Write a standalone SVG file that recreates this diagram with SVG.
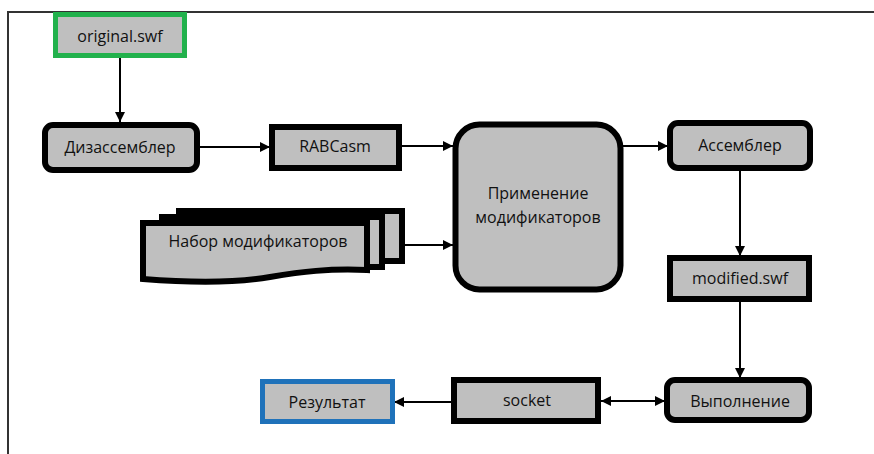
<svg xmlns="http://www.w3.org/2000/svg" width="874" height="454" viewBox="0 0 874 454">
<defs>
<marker id="ah" viewBox="0 0 10 10" refX="10" refY="5" markerWidth="10" markerHeight="10" markerUnits="userSpaceOnUse" orient="auto-start-reverse">
<path d="M0,0 L10,5 L0,10 z" fill="#000"/>
</marker>
<style>
.n{fill:#bfbfbf;stroke:#000;stroke-width:6}
.t{font-family:"Open Sans","Noto Sans",sans-serif;font-size:16px;fill:#111;text-anchor:middle;dominant-baseline:central}
.c{stroke:#000;stroke-width:2;fill:none}
</style>
</defs>
<rect width="874" height="454" fill="#fff"/>
<path d="M8,454 V12 H874" fill="none" stroke="#333" stroke-width="2"/>
<g id="connectors">
<line class="c" x1="120" y1="58" x2="120" y2="122" marker-end="url(#ah)"/>
<line class="c" x1="200" y1="147" x2="270" y2="147" marker-end="url(#ah)"/>
<line class="c" x1="401" y1="146" x2="453" y2="146" marker-end="url(#ah)"/>
<line class="c" x1="405" y1="245" x2="453" y2="245" marker-end="url(#ah)"/>
<line class="c" x1="623" y1="146" x2="668" y2="146" marker-end="url(#ah)"/>
<line class="c" x1="740" y1="170" x2="740" y2="256" marker-end="url(#ah)"/>
<line class="c" x1="740" y1="301" x2="740" y2="378" marker-end="url(#ah)"/>
<line class="c" x1="601" y1="401" x2="665" y2="401" marker-start="url(#ah)" marker-end="url(#ah)"/>
<line class="c" x1="451" y1="402" x2="394" y2="402" marker-end="url(#ah)"/>
</g>
<g id="original">
<rect x="55.5" y="14.5" width="129" height="41" fill="#bfbfbf" stroke="#22b14c" stroke-width="5"/>
<text class="t" x="120" y="36">original.swf</text>
</g>
<g id="disasm">
<rect class="n" x="45" y="125" width="152" height="45" rx="8"/>
<text class="t" x="120" y="147">Дизассемблер</text>
</g>
<g id="rabcasm">
<rect class="n" x="272" y="127" width="127" height="41"/>
<text class="t" x="335" y="146">RABCasm</text>
</g>
<g id="modset">
<rect class="n" x="179" y="211" width="223" height="50"/>
<rect class="n" x="162" y="217" width="220" height="50"/>
<path class="n" d="M143,223 H367 V270 C330,268 300,272 270,277 C230,284 180,282 143,279 Z"/>
<text class="t" x="258" y="241">Набор модификаторов</text>
</g>
<g id="apply">
<rect class="n" x="455.5" y="124.5" width="165" height="165" rx="24" stroke-width="7"/>
<text class="t" x="538" y="193">Применение</text>
<text class="t" x="538" y="217">модификаторов</text>
</g>
<g id="asm">
<rect class="n" x="670" y="123" width="140" height="45" rx="8"/>
<text class="t" x="740" y="145">Ассемблер</text>
</g>
<g id="modified">
<rect class="n" x="670" y="258" width="139" height="41"/>
<text class="t" x="740" y="278">modified.swf</text>
</g>
<g id="exec">
<rect class="n" x="667" y="380" width="142" height="40" rx="8"/>
<text class="t" x="740" y="401">Выполнение</text>
</g>
<g id="socket">
<rect class="n" x="454" y="380" width="144" height="41"/>
<text class="t" x="527" y="400">socket</text>
</g>
<g id="result">
<rect x="262.5" y="381.5" width="130" height="40" fill="#bfbfbf" stroke="#1f72ba" stroke-width="5"/>
<text class="t" x="327" y="402">Результат</text>
</g>
</svg>
